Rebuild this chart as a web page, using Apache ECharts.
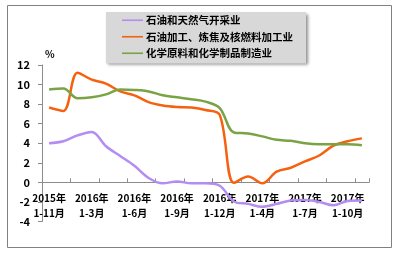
<!DOCTYPE html>
<html>
<head>
<meta charset="utf-8">
<script src="https://cdn.jsdelivr.net/npm/echarts@6/dist/echarts.min.js"></script>
<style>
html,body{margin:0;padding:0;background:#fff;}
#c{width:398px;height:257px;}
</style>
</head>
<body>
<div id="c"></div>
<script>
const categories = [
  '2015年\n1-11月','2015年\n1-12月',
  '2016年\n1-2月','2016年\n1-3月','2016年\n1-4月','2016年\n1-5月','2016年\n1-6月','2016年\n1-7月',
  '2016年\n1-8月','2016年\n1-9月','2016年\n1-10月','2016年\n1-11月','2016年\n1-12月',
  '2017年\n1-2月','2017年\n1-3月','2017年\n1-4月','2017年\n1-5月','2017年\n1-6月','2017年\n1-7月',
  '2017年\n1-8月','2017年\n1-9月','2017年\n1-10月','2017年\n1-11月'
];
const seriesNames = ['石油和天然气开采业', '石油加工、炼焦及核燃料加工业', '化学原料和化学制品制造业'];
const oilGas = [4.0, 4.2, 4.8, 5.15, 3.7, 2.7, 1.7, 0.45, -0.1, 0.1, -0.1, -0.1, -0.35, -1.95, -2.2, -2.5, -2.2, -1.85, -1.8, -2.0, -2.35, -1.9, -1.85];
const refining = [7.65, 7.3, 11.2, 10.5, 10.1, 9.3, 8.9, 8.2, 7.85, 7.7, 7.65, 7.4, 6.9, -0.05, 0.6, -0.1, 1.1, 1.5, 2.15, 2.75, 3.75, 4.2, 4.5];
const chemical = [9.5, 9.6, 8.6, 8.7, 9.0, 9.5, 9.45, 9.3, 8.9, 8.7, 8.5, 8.25, 7.6, 5.1, 5.0, 4.7, 4.35, 4.25, 4.0, 3.9, 3.9, 3.9, 3.8];
const yTicks = {min: -4, max: 12, interval: 2};
const colors = ['#b48cf2', '#f5620f', '#7aa345'];

const chart = echarts.init(document.getElementById('c'), null, {renderer: 'canvas'});
const font = '"Noto Sans CJK SC", "Noto Sans", sans-serif';
const data = [oilGas, refining, chemical];
const gridTop = 65, gridBottom = 35.5, plotH = 257 - gridTop - gridBottom;
// distance from bottom of plot (min) up to the zero line
const zeroOffset = plotH * (0 - yTicks.min) / (yTicks.max - yTicks.min);
chart.setOption({
  animation: false,
  textStyle: {fontFamily: font},
  graphic: [{
    type: 'rect', shape: {x: 7.5, y: 5.5, width: 384, height: 242},
    style: {fill: null, stroke: '#808080', lineWidth: 1}, z: -1
  }],
  grid: {left: 42, right: 29, top: gridTop, bottom: gridBottom, containLabel: false},
  legend: {
    orient: 'vertical', left: 106, top: 12,
    backgroundColor: '#d8d8d8',
    shadowColor: 'rgba(0,0,0,0.45)', shadowBlur: 3, shadowOffsetX: 2, shadowOffsetY: 2,
    padding: [3, 13, 5, 16],
    itemWidth: 21, itemHeight: 12, itemGap: 6,
    textStyle: {fontFamily: font, fontSize: 10.5, fontWeight: 'bold', color: '#000', padding: [0, 0, 0, -2]},
    data: seriesNames.map((n, i) => ({name: n, icon: 'path://M0,0 L21,0 L21,1.6 L0,1.6 Z', itemStyle: {color: colors[i]}}))
  },
  xAxis: {
    type: 'category', data: categories, boundaryGap: true,
    offset: -zeroOffset,
    axisLine: {onZero: false, lineStyle: {color: '#8c8c8c', width: 1}},
    axisTick: {show: true, interval: 1, length: 4, inside: true, lineStyle: {color: '#8c8c8c'}},
    axisLabel: {interval: 2, margin: 8, fontSize: 10, fontWeight: 'bold', color: '#000', lineHeight: 15, fontFamily: font}
  },
  yAxis: {
    type: 'value', min: yTicks.min, max: yTicks.max, interval: yTicks.interval,
    name: '%', nameLocation: 'end', nameGap: 6,
    nameTextStyle: {fontSize: 10, fontWeight: 'bold', color: '#000', align: 'left', padding: [0, 0, 0, 3], fontFamily: font},
    splitLine: {show: false},
    axisLine: {show: true, lineStyle: {color: '#8c8c8c', width: 1}},
    axisTick: {show: true, length: 4, lineStyle: {color: '#8c8c8c'}},
    axisLabel: {margin: 12, fontSize: 11, fontWeight: 'bold', color: '#000', fontFamily: font}
  },
  series: seriesNames.map((n, i) => ({
    name: n, type: 'line', data: data[i], smooth: 0.35, symbol: 'none',
    lineStyle: {color: colors[i], width: 2.5}, itemStyle: {color: colors[i]}
  }))
});
</script>
</body>
</html>
